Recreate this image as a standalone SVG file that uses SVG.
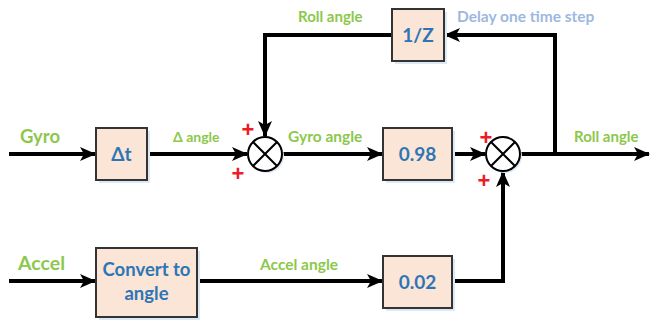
<svg xmlns="http://www.w3.org/2000/svg" width="651" height="320" viewBox="0 0 651 320">
<defs>
<marker id="arr" markerUnits="userSpaceOnUse" markerWidth="16" markerHeight="14" refX="15" refY="7" orient="auto">
<path d="M0,0 L16,7 L0,14 L4,7 Z" fill="#000"/>
</marker>
<style>
.box{fill:#fbe5d6;stroke:#333;stroke-width:2}
.sh{fill:#dbe9f6}
.bt{font-family:Lato,"Liberation Sans",sans-serif;font-weight:bold;fill:#2e75b6;text-anchor:middle}
.lb{font-family:Lato,"Liberation Sans",sans-serif;font-weight:bold;fill:#8cc84b}
.pl{font-family:"Liberation Sans",sans-serif;font-weight:bold;fill:#ee1c25;font-size:22px;text-anchor:middle}
.wire{fill:none;stroke:#000;stroke-width:4;stroke-linejoin:miter}
.sum{fill:#fff;stroke:#000;stroke-width:2}
</style>
</defs>
<rect width="651" height="320" fill="#fff"/>
<g id="connectors">
<path class="wire" d="M9,154 H95" marker-end="url(#arr)"/>
<path class="wire" d="M147,154 H247" marker-end="url(#arr)"/>
<path class="wire" d="M282,154 H382" marker-end="url(#arr)"/>
<path class="wire" d="M452,154 H485" marker-end="url(#arr)"/>
<path class="wire" d="M520,154 H649" marker-end="url(#arr)"/>
<path class="wire" d="M555,154 V35 H445" marker-end="url(#arr)"/>
<path class="wire" d="M392,35 H265 V136" marker-end="url(#arr)"/>
<path class="wire" d="M9,281 H95" marker-end="url(#arr)"/>
<path class="wire" d="M197,281 H382" marker-end="url(#arr)"/>
<path class="wire" d="M452,281 H503 V172" marker-end="url(#arr)"/>
</g>
<g id="dt">
<rect class="sh" x="99" y="131" width="51" height="52"/>
<rect class="box" x="96" y="128" width="51" height="52"/>
<text class="bt" x="121.5" y="161" font-size="19">Δt</text>
</g>
<g id="conv">
<rect class="sh" x="99" y="251" width="101" height="69"/>
<rect class="box" x="96" y="248" width="101" height="69"/>
<text class="bt" x="146.5" y="276" font-size="18.5">Convert to</text>
<text class="bt" x="146.5" y="300" font-size="18.5">angle</text>
</g>
<g id="g098">
<rect class="sh" x="386" y="131" width="69" height="52"/>
<rect class="box" x="383" y="128" width="69" height="52"/>
<text class="bt" x="417.5" y="161" font-size="19">0.98</text>
</g>
<g id="g002">
<rect class="sh" x="386" y="259" width="69" height="52"/>
<rect class="box" x="383" y="256" width="69" height="52"/>
<text class="bt" x="417.5" y="289" font-size="19">0.02</text>
</g>
<g id="delay">
<rect class="sh" x="395" y="12" width="52" height="52"/>
<rect class="box" x="392" y="9" width="52" height="52"/>
<text class="bt" x="418" y="42" font-size="19">1/Z</text>
</g>
<g id="sum1">
<circle cx="267" cy="156" r="17" fill="#dbe9f6"/>
<circle class="sum" cx="265" cy="154" r="17"/>
<path d="M253,142 L277,166 M277,142 L253,166" stroke="#000" stroke-width="2"/>
<text class="pl" x="248" y="137">+</text>
<text class="pl" x="238" y="181">+</text>
</g>
<g id="sum2">
<circle cx="505" cy="156" r="17" fill="#dbe9f6"/>
<circle class="sum" cx="503" cy="154" r="17"/>
<path d="M491,142 L515,166 M515,142 L491,166" stroke="#000" stroke-width="2"/>
<text class="pl" x="486" y="145">+</text>
<text class="pl" x="484" y="188">+</text>
</g>
<g id="labels">
<text class="lb" x="20" y="143" font-size="18.5">Gyro</text>
<text class="lb" x="173" y="142" font-size="14">Δ angle</text>
<text class="lb" x="288" y="142" font-size="15.5">Gyro angle</text>
<text class="lb" x="298" y="22" font-size="15">Roll angle</text>
<text class="lb" x="574" y="142" font-size="15">Roll angle</text>
<text x="457" y="22" font-size="15.5" font-family="Lato,'Liberation Sans',sans-serif" font-weight="bold" fill="#9db8e0">Delay one time step</text>
<text class="lb" x="18" y="270" font-size="19.5">Accel</text>
<text class="lb" x="260" y="270" font-size="15.5">Accel angle</text>
</g>
</svg>
